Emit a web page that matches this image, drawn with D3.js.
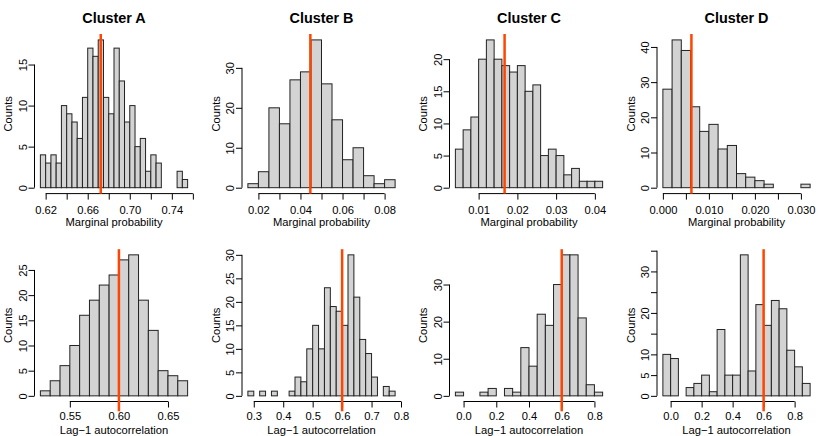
<!DOCTYPE html>
<html>
<head>
<meta charset="utf-8">
<script src="https://cdn.jsdelivr.net/npm/d3@7/dist/d3.min.js"></script>
<style>
    body { margin: 0; background: #ffffff; }
    svg text { font-family: "Liberation Sans", Arial, Helvetica, sans-serif; fill: #000; }
</style>
</head>
<body>
<div id="chart"></div>
<script>
var clusterNames = ['Cluster A', 'Cluster B', 'Cluster C', 'Cluster D'];

// top row: marginal probability
var margBinStart = [0.615, 0.015, 0.004, 0.000];
var margBinWidth = [0.005, 0.005, 0.002, 0.002];
var margCountsA = [4, 3, 4, 3, 10, 9, 8, 6, 11, 17, 16, 18, 11, 9, 17, 13, 8, 10, 5, 6, 2, 4, 3, 0, 0, 0, 2, 1];
var margCountsB = [1, 4, 20, 16, 27, 29, 37, 26, 17, 7, 10, 3, 1, 2];
var margCountsC = [6, 9, 11, 20, 23, 20, 19, 18, 19, 15, 16, 5, 6, 5, 2, 3, 1, 1, 1];
var margCountsD = [28, 42, 39, 23, 16, 18, 11, 12, 4, 3, 2, 1, 0, 0, 0, 1];
var margMean = [0.6724, 0.0447, 0.0167, 0.0062];
var margXTicks = [
    [0.62, 0.64, 0.66, 0.68, 0.70, 0.72, 0.74, 0.76],
    [0.02, 0.03, 0.04, 0.05, 0.06, 0.07, 0.08],
    [0.01, 0.02, 0.03, 0.04],
    [0, 0.005, 0.010, 0.015, 0.020, 0.025, 0.030]
];
var margXLabels = [
    ['0.62', '', '0.66', '', '0.70', '', '0.74', ''],
    ['0.02', '', '0.04', '', '0.06', '', '0.08'],
    ['0.01', '0.02', '0.03', '0.04'],
    ['0.000', '', '0.010', '', '0.020', '', '0.030']
];
var margYTicks = [
    [0, 5, 10, 15],
    [0, 10, 20, 30],
    [0, 5, 10, 15, 20],
    [0, 10, 20, 30, 40]
];
var margYLabels = [
    ['0', '5', '10', '15'],
    ['0', '10', '20', '30'],
    ['0', '5', '10', '15', '20'],
    ['0', '10', '20', '30', '40']
];

// bottom row: lag-1 autocorrelation
var lagBinStart = [0.52, 0.28, -0.05, -0.05];
var lagBinWidth = [0.01, 0.02, 0.05, 0.05];
var lagCountsA = [1, 3, 6, 10, 16, 19, 22, 24, 27, 28, 19, 13, 5, 4, 3];
var lagCountsB = [1, 0, 1, 0, 1, 0, 0, 1, 4, 3, 10, 15, 10, 23, 19, 18, 15, 30, 21, 12, 9, 4, 0, 2, 1];
var lagCountsC = [1, 0, 0, 1, 2, 0, 2, 1, 13, 8, 22, 19, 30, 38, 38, 21, 3, 1];
var lagCountsD = [10, 9, 0, 2, 3, 5, 1, 16, 5, 5, 34, 6, 22, 17, 23, 21, 11, 7, 3];
var lagMean = [0.6, 0.6, 0.6, 0.6];
var lagXTicks = [
    [0.55, 0.60, 0.65],
    [0.3, 0.4, 0.5, 0.6, 0.7, 0.8],
    [0.0, 0.2, 0.4, 0.6, 0.8],
    [0.0, 0.2, 0.4, 0.6, 0.8]
];
var lagXLabels = [
    ['0.55', '0.60', '0.65'],
    ['0.3', '0.4', '0.5', '0.6', '0.7', '0.8'],
    ['0.0', '0.2', '0.4', '0.6', '0.8'],
    ['0.0', '0.2', '0.4', '0.6', '0.8']
];
var lagYTicks = [
    [0, 5, 10, 15, 20, 25],
    [0, 5, 10, 15, 20, 25, 30],
    [0, 10, 20, 30],
    [0, 5, 10, 15, 20, 25, 30, 35]
];
var lagYLabels = [
    ['0', '5', '10', '15', '20', '25'],
    ['0', '5', '10', '15', '20', '25', '30'],
    ['0', '10', '20', '30'],
    ['0', '5', '10', '', '20', '', '30', '']
];

var margCounts = [margCountsA, margCountsB, margCountsC, margCountsD];
var lagCounts = [lagCountsA, lagCountsB, lagCountsC, lagCountsD];

var width = 830, height = 436;
var colWidth = 207.5;
var fontSize = 11.2;

var svg = d3.select('#chart')
    .append('svg')
    .attr('width', width)
    .attr('height', height);

svg.append('rect')
    .attr('width', width)
    .attr('height', height)
    .attr('fill', '#ffffff');

var rows = [
    { top: 34, bottom: 193.6, redBottom: 193.6, xlab: 'Marginal probability', title: true,
      tickPad: 6, labGap: 32,
      start: margBinStart, bw: margBinWidth, counts: margCounts, mean: margMean,
      xt: margXTicks, xl: margXLabels, yt: margYTicks, yl: margYLabels },
    { top: 249.2, bottom: 401.5, redBottom: 411.3, xlab: 'Lag\u22121 autocorrelation', title: false,
      tickPad: 5, labGap: 32.5,
      start: lagBinStart, bw: lagBinWidth, counts: lagCounts, mean: lagMean,
      xt: lagXTicks, xl: lagXLabels, yt: lagYTicks, yl: lagYLabels }
];

rows.forEach(function(row) {
    for (var i = 0; i < 4; i++) {
        drawHist(row, i);
    }
});

function drawHist(row, i) {
    var left = i * colWidth + 34.5;
    var right = i * colWidth + 193.5;
    var counts = row.counts[i];
    var bins = counts.map(function(c, k) {
        var x0 = row.start[i] + k * row.bw[i];
        return { x0: x0, x1: x0 + row.bw[i], count: c };
    });

    var lo = bins[0].x0, hi = bins[bins.length - 1].x1;
    var pad = (hi - lo) * 0.04;
    var ymax = d3.max(counts);

    var x = d3.scaleLinear().domain([lo - pad, hi + pad]).range([left, right]);
    var y = d3.scaleLinear().domain([-0.04 * ymax, 1.04 * ymax]).range([row.bottom, row.top]);

    var g = svg.append('g');

    g.selectAll('rect.bar')
        .data(bins)
        .enter()
        .append('rect')
        .attr('class', 'bar')
        .attr('x', function(d) { return x(d.x0); })
        .attr('width', function(d) { return x(d.x1) - x(d.x0); })
        .attr('y', function(d) { return y(d.count); })
        .attr('height', function(d) { return y(0) - y(d.count); })
        .attr('fill', '#d3d3d3')
        .attr('stroke', '#222')
        .attr('stroke-width', 1);

    // x axis, line only between first and last tick like R
    var xt = row.xt[i], xl = row.xl[i];
    var xAxis = g.append('g')
        .attr('transform', 'translate(0,' + row.bottom + ')')
        .call(d3.axisBottom(x)
            .tickValues(xt)
            .tickSize(6)
            .tickPadding(row.tickPad)
            .tickFormat(function(d, k) { return xl[k]; }));
    xAxis.select('.domain').remove();
    xAxis.selectAll('line').attr('stroke', '#000');
    xAxis.selectAll('text')
        .attr('font-size', fontSize)
        .attr('font-family', null);
    xAxis.append('line')
        .attr('x1', x(xt[0]))
        .attr('x2', x(xt[xt.length - 1]))
        .attr('stroke', '#000');

    // y axis, labels parallel to the axis
    var yt = row.yt[i], yl = row.yl[i];
    var yAxis = g.append('g')
        .attr('transform', 'translate(' + left + ',0)')
        .call(d3.axisLeft(y)
            .tickValues(yt)
            .tickSize(6)
            .tickFormat(function(d, k) { return yl[k]; }));
    yAxis.select('.domain').remove();
    yAxis.selectAll('line').attr('stroke', '#000');
    yAxis.selectAll('text')
        .attr('font-size', fontSize)
        .attr('font-family', null)
        .attr('text-anchor', 'middle')
        .attr('x', 0)
        .attr('y', -8)
        .attr('dy', null)
        .attr('transform', 'rotate(-90)');
    yAxis.append('line')
        .attr('y1', y(yt[0]))
        .attr('y2', y(yt[yt.length - 1]))
        .attr('stroke', '#000');

    // axis titles
    g.append('text')
        .attr('x', (left + right) / 2)
        .attr('y', row.bottom + row.labGap)
        .attr('text-anchor', 'middle')
        .attr('font-size', fontSize)
        .text(row.xlab);

    g.append('text')
        .attr('transform', 'translate(' + (left - 22.5) + ',' + (row.top + row.bottom) / 2 + ') rotate(-90)')
        .attr('text-anchor', 'middle')
        .attr('font-size', fontSize)
        .text('Counts');

    if (row.title) {
        g.append('text')
            .attr('x', (left + right) / 2)
            .attr('y', 22.5)
            .attr('text-anchor', 'middle')
            .attr('font-size', 14.4)
            .attr('font-weight', 'bold')
            .text(clusterNames[i]);
    }

    // mean line
    g.append('line')
        .attr('x1', x(row.mean[i]))
        .attr('x2', x(row.mean[i]))
        .attr('y1', row.top)
        .attr('y2', row.redBottom)
        .attr('stroke', '#ff4500')
        .attr('stroke-width', 2.5);
}
</script>
</body>
</html>
